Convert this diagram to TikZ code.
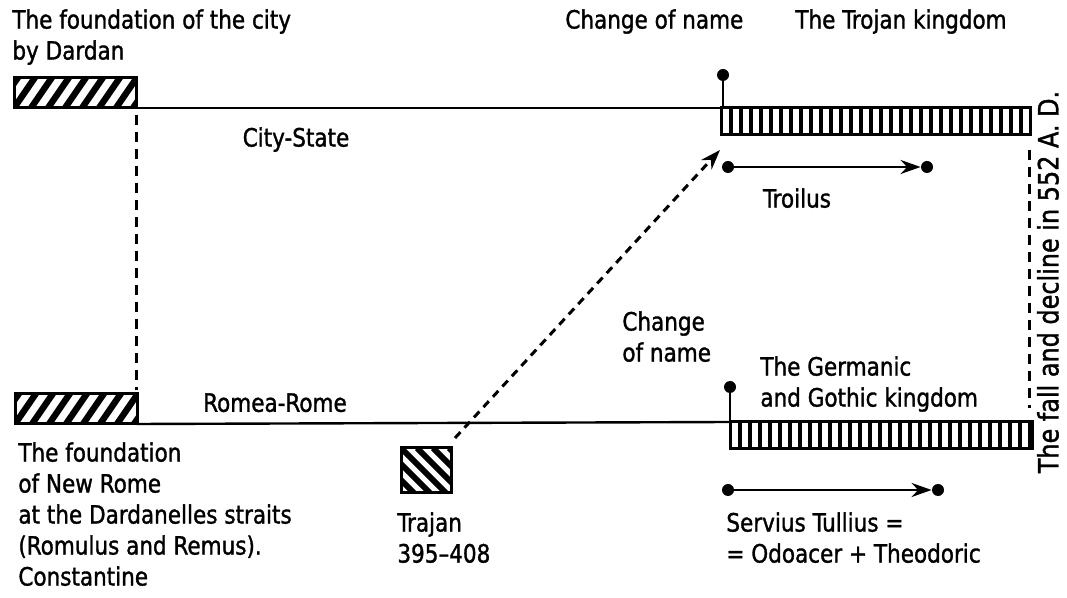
\documentclass[tikz,border=0pt]{standalone}
\usepackage{fontspec}
\setmainfont{DejaVu Sans Condensed}[FakeBold=1.3, FakeStretch=0.95]
\usetikzlibrary{arrows.meta, positioning}

\begin{document}
\begin{tikzpicture}[
		x=0.5pt, y=-0.5pt,
		font=\fontsize{12.6}{15.5}\selectfont,
		txt/.style		={ inner sep=0pt, align=left, anchor=north west },
		line/.style		={ line width=1.2pt },
		boxed/.style		={ draw, line width=1.5pt, inner sep=0pt, outer sep=0pt, anchor=north west },
		hatch/.style		={ boxed, minimum width=61pt, minimum height=15pt,
			path picture={
				\foreach \k in {-3,...,8}
					\draw [line width=3.2pt] ([xshift=\k*8.5pt]path picture bounding box.south west) -- ++(11pt,16pt);
			}
		},
		bars/.style		={ boxed, minimum height=13.5pt,
			path picture={
				\foreach \k in {1,...,31}
					\draw [line width=1.7pt] ([xshift=\k*5pt]path picture bounding box.south west) -- ++(0,16pt);
			}
		},
		trhatch/.style	={ boxed, minimum width=25pt, minimum height=22.5pt,
			path picture={
				\foreach \k in {-4,...,4}
					\draw [line width=3pt] ([xshift=\k*8pt]path picture bounding box.north west) -- ++(26pt,-26pt);
			}
		},
		dot/.style		={ circle, fill, inner sep=0pt, minimum size=6pt },
		fate/.style		={ line width=1.3pt, -{Stealth[length=10pt, width=7pt]} },
		gap/.style		={ line width=1.5pt, dash pattern=on 5pt off 3.5pt },
	]
	\useasboundingbox (0,0) rectangle (1067,598);

	% foundation boxes and time lines
	\node (fdT) [hatch] at (14,78) {};
	\node (fdB) [hatch] at (15,394) {};
	\node (trojan) [bars, minimum width=154.5pt] at (721,108) {};
	\node (goth) [bars, minimum width=151pt] at (730,422) {};
	\draw [line] (fdT.south east) -- (trojan.north west);
	\draw [line] (fdB.south east) -- (goth.north west);

	% change of name pins
	\node (pinT) [dot] at (723,75) {};
	\node (pinB) [dot] at (730,387) {};
	\draw [line width=1.3pt] (pinT) -- (pinT |- trojan.north);
	\draw [line width=1.3pt] (pinB) -- (pinB |- goth.north);

	% rulers
	\node (trA) [dot] at (728,167) {};
	\node (trB) [dot] at (927,167) {};
	\draw [fate] (trA) -- (trB);
	\node (svA) [dot] at (728,490) {};
	\node (svB) [dot] at (938,490) {};
	\draw [fate] (svA) -- (svB);

	% Trajan
	\node (trajan) [trhatch] at (401,448) {};
	\coordinate (tgt) at (720,150);
	\draw [gap, dash pattern=on 4pt off 3pt, -{Stealth[length=10pt, width=7pt]}]
		(trajan.north east) ++(4,-10) -- (tgt);

	% dashed links
	\coordinate (lnT) at (136,115);
	\coordinate (lnB) at (136,390);
	\draw [gap] (lnT) -- (lnB);
	\coordinate (fallT) at (1029,150);
	\coordinate (fallB) at (1029,408);
	\draw [gap] (fallT) -- (fallB);

	% labels
	\node (lbDardan) [txt] at (12,9) {The foundation of the city\\by Dardan};
	\node (lbChgT) [txt] at (565,9) {Change of name};
	\node (lbTrojan) [txt] at (795,9) {The Trojan kingdom};
	\node (lbCity) [txt, anchor=north] at (296,127) {City-State};
	\node (lbTroilus) [txt, anchor=north] at (797,188) {Troilus};
	\node (lbChgB) [txt] at (622,311) {Change\\of name};
	\node (lbGoth) [txt] at (760,356) {The Germanic\\and Gothic kingdom};
	\node (lbRome) [txt, anchor=north] at (275,393) {Romea-Rome};
	\node (lbNewRome) [txt] at (18,442) {The foundation\\of New Rome\\at the Dardanelles straits\\(Romulus and Remus).\\Constantine};
	\node (lbTrajan) [txt] at (397,512) {Trajan\\395--408};
	\node (lbServius) [txt] at (726,512) {Servius Tullius =\\= Odoacer + Theodoric};
	\node (lbFall) [rotate=90, inner sep=0pt, font=\fontsize{14}{16}\selectfont] at (1048,282) {The fall and decline in 552 A. D.};
\end{tikzpicture}
\end{document}
